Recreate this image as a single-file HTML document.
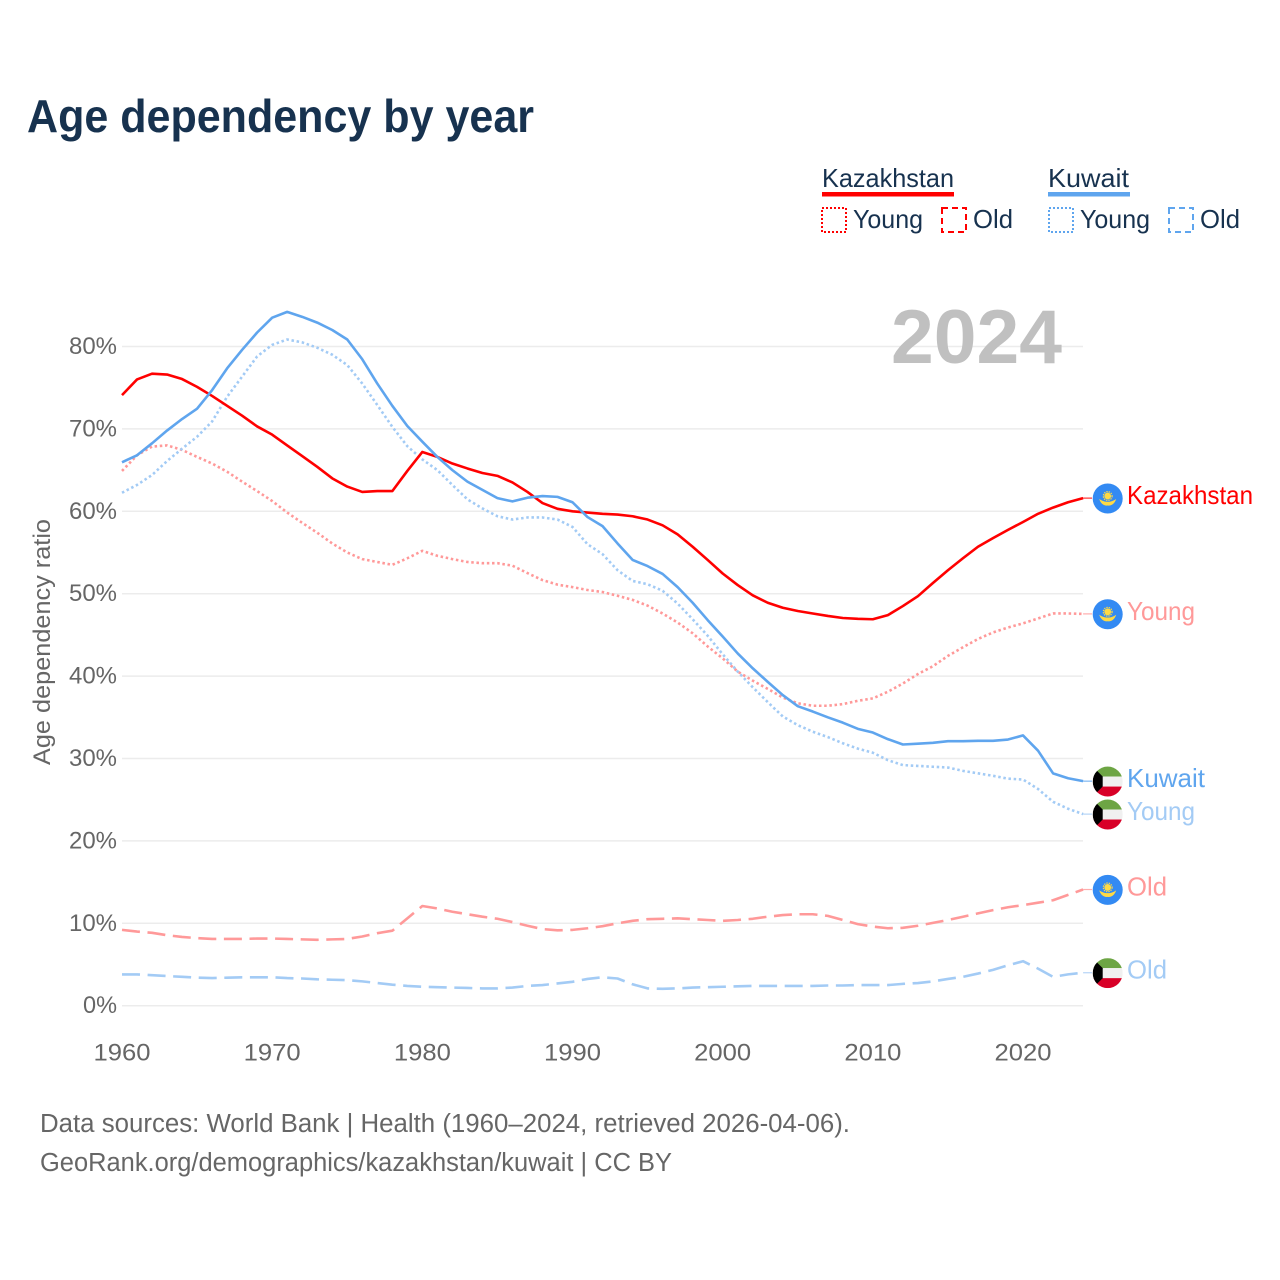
<!DOCTYPE html>
<html lang="en">
<head>
<meta charset="utf-8">
<title>Age dependency by year</title>
<style>
html,body{margin:0;padding:0;background:#fff;}
svg{display:block;}
text{font-family:"Liberation Sans",sans-serif;}
</style>
</head>
<body>
<svg id="chart" xmlns="http://www.w3.org/2000/svg" width="1280" height="1280" viewBox="0 0 1280 1280">
  <defs><clipPath id="flag-clip"><circle cx="0" cy="0" r="15"></circle></clipPath></defs>
  <rect x="0" y="0" width="1280" height="1280" fill="#ffffff"></rect>
  <text x="27" y="132" font-size="46" font-weight="700" fill="#17324f" textLength="507" lengthAdjust="spacingAndGlyphs">Age dependency by year</text>

  <g fill="#17324f" font-size="26">
    <text x="822" y="187" textLength="132" lengthAdjust="spacingAndGlyphs">Kazakhstan</text>
    <rect x="822" y="192" width="132" height="4.5" fill="#ff0000"></rect>
    <rect x="822" y="208" width="24" height="24" fill="none" stroke="#ff0000" stroke-width="2" stroke-dasharray="2 2"></rect>
    <text x="853" y="228" textLength="70" lengthAdjust="spacingAndGlyphs">Young</text>
    <rect x="942" y="208" width="24" height="24" fill="none" stroke="#ff0000" stroke-width="2" stroke-dasharray="6 4"></rect>
    <text x="973" y="228" textLength="40" lengthAdjust="spacingAndGlyphs">Old</text>
    <text x="1048" y="187" textLength="81" lengthAdjust="spacingAndGlyphs">Kuwait</text>
    <rect x="1048" y="192" width="82" height="4.5" fill="#5fa5ee"></rect>
    <rect x="1049" y="208" width="24" height="24" fill="none" stroke="#5fa5ee" stroke-width="2" stroke-dasharray="2 2"></rect>
    <text x="1080" y="228" textLength="70" lengthAdjust="spacingAndGlyphs">Young</text>
    <rect x="1169" y="208" width="24" height="24" fill="none" stroke="#5fa5ee" stroke-width="2" stroke-dasharray="6 4"></rect>
    <text x="1200" y="228" textLength="40" lengthAdjust="spacingAndGlyphs">Old</text>
  </g>

  <g id="grid"></g>
  <text x="891" y="363" font-size="76" font-weight="700" fill="#c0c0c0" textLength="171" lengthAdjust="spacingAndGlyphs">2024</text>
  <g id="series"></g>
  <g id="yticks" font-size="24" fill="#666666"></g>
  <g id="xticks" font-size="24" fill="#666666"></g>
  <text transform="translate(50,642) rotate(-90)" text-anchor="middle" font-size="24" fill="#666666" textLength="246" lengthAdjust="spacingAndGlyphs">Age dependency ratio</text>
  <g id="ends"></g>

  <text x="40" y="1132" font-size="25.5" fill="#666666" textLength="810" lengthAdjust="spacingAndGlyphs">Data sources: World Bank | Health (1960–2024, retrieved 2026-04-06).</text>
  <text x="40" y="1171" font-size="25.5" fill="#666666" textLength="632" lengthAdjust="spacingAndGlyphs">GeoRank.org/demographics/kazakhstan/kuwait | CC BY</text>
</svg>
<script>
var startYear = 1960;
var xTickYears = [1960, 1970, 1980, 1990, 2000, 2010, 2020];
var yTickValues = [0, 10, 20, 30, 40, 50, 60, 70, 80];
var kazakhstanTotal = [74.1,76.0,76.7,76.6,76.05,75.1,74.0,72.8,71.6,70.3,69.3,68.0,66.7,65.4,64.0,63.0,62.35,62.45,62.45,64.9,67.2,66.6,65.8,65.2,64.65,64.3,63.5,62.35,61.0,60.3,60.0,59.85,59.7,59.6,59.4,59.0,58.3,57.2,55.7,54.1,52.45,51.05,49.8,48.9,48.3,47.9,47.6,47.3,47.05,46.95,46.9,47.4,48.5,49.7,51.3,52.85,54.3,55.7,56.75,57.75,58.7,59.7,60.45,61.1,61.6];
var kazakhstanYoung = [64.9,66.8,67.85,68.0,67.45,66.6,65.8,64.8,63.6,62.45,61.25,59.85,58.6,57.4,56.1,55.0,54.2,53.85,53.5,54.3,55.2,54.6,54.2,53.85,53.7,53.7,53.4,52.5,51.65,51.1,50.8,50.45,50.2,49.75,49.25,48.55,47.6,46.5,45.2,43.6,42.15,40.55,39.45,38.45,37.4,36.7,36.4,36.4,36.6,37.0,37.3,38.1,39.1,40.25,41.2,42.45,43.5,44.5,45.3,45.9,46.4,47.0,47.6,47.6,47.55];
var kazakhstanOld = [9.2,9.0,8.85,8.55,8.35,8.2,8.1,8.1,8.1,8.15,8.15,8.1,8.05,8.0,8.05,8.1,8.4,8.8,9.1,10.6,12.1,11.8,11.4,11.1,10.8,10.55,10.15,9.7,9.3,9.15,9.2,9.4,9.65,10.0,10.3,10.5,10.55,10.6,10.5,10.4,10.3,10.4,10.55,10.8,11.0,11.1,11.1,10.9,10.4,9.9,9.6,9.4,9.45,9.7,10.05,10.4,10.8,11.2,11.6,11.95,12.2,12.5,12.8,13.45,14.1];
var kuwaitTotal = [65.95,66.8,68.25,69.8,71.2,72.45,74.7,77.35,79.6,81.7,83.5,84.2,83.6,82.9,82.0,80.85,78.45,75.5,72.8,70.35,68.45,66.6,65.0,63.6,62.6,61.6,61.2,61.65,61.85,61.75,61.1,59.3,58.2,56.1,54.1,53.35,52.4,50.8,48.9,46.8,44.8,42.75,40.95,39.3,37.7,36.35,35.7,35.0,34.35,33.6,33.15,32.35,31.7,31.8,31.9,32.1,32.1,32.15,32.15,32.3,32.8,30.95,28.2,27.6,27.25];
var kuwaitYoung = [62.25,63.2,64.4,66.1,67.6,69.05,70.9,73.9,76.35,78.8,80.2,80.85,80.5,79.85,79.0,77.75,75.5,72.9,70.25,67.9,66.3,65.0,63.2,61.45,60.35,59.4,59.0,59.25,59.25,59.0,58.1,56.0,54.8,52.85,51.55,51.15,50.35,48.8,46.9,44.9,42.65,40.55,38.65,36.85,35.1,34.05,33.25,32.6,31.85,31.2,30.7,29.8,29.2,29.1,29.0,28.9,28.5,28.2,27.9,27.55,27.45,26.3,24.75,23.9,23.25];
var kuwaitOld = [3.8,3.8,3.7,3.6,3.5,3.4,3.35,3.4,3.45,3.45,3.45,3.35,3.3,3.2,3.15,3.1,2.95,2.75,2.55,2.4,2.3,2.25,2.2,2.15,2.1,2.1,2.2,2.4,2.5,2.7,2.9,3.25,3.45,3.3,2.6,2.1,2.05,2.1,2.2,2.25,2.3,2.35,2.4,2.4,2.4,2.4,2.4,2.45,2.45,2.5,2.5,2.5,2.65,2.75,2.95,3.25,3.5,3.9,4.35,4.9,5.4,4.5,3.5,3.8,4.0];

var NS = 'http://www.w3.org/2000/svg';
var RED = '#ff0000', RED_LIGHT = '#ff9999', BLUE = '#5fa5ee', BLUE_LIGHT = '#a3cbf5';
function xScale(year){ return 122 + (year - 1960) * 15.017; }
function yScale(v){ return 1005.7 - v * 8.24; }
function make(tag, attrs, parent){
  var el = document.createElementNS(NS, tag);
  for (var k in attrs) el.setAttribute(k, attrs[k]);
  parent.appendChild(el);
  return el;
}
var gridG = document.getElementById('grid');
var yG = document.getElementById('yticks');
var xG = document.getElementById('xticks');
var seriesG = document.getElementById('series');
var endsG = document.getElementById('ends');

yTickValues.forEach(function(v){
  var line = make('line', {x1:122, x2:1083, y1:yScale(v), y2:yScale(v), stroke:'#ececec', 'stroke-width':1.5}, gridG);
  
  
  var t = make('text', {x:117, y:yScale(v)+7.5, 'text-anchor':'end', textLength: v === 0 ? 34 : 48, lengthAdjust:'spacingAndGlyphs'}, yG);
  
  
  t.textContent = v + '%';
});
xTickYears.forEach(function(y){
  var t = make('text', {x:xScale(y), y:1060.5, 'text-anchor':'middle', textLength:57, lengthAdjust:'spacingAndGlyphs'}, xG);
  
  
  t.textContent = y;
});

function drawLine(values, color, dash, name){
  var d = values.map(function(v, i){
    return (i ? 'L' : 'M') + xScale(startYear + i).toFixed(2) + ' ' + yScale(v).toFixed(2);
  }).join(' ');
  var attrs = {d:d, fill:'none', stroke:color, 'stroke-width':2.6, 'stroke-linejoin':'round'};
  if (dash) attrs['stroke-dasharray'] = dash;
  var p = make('path', attrs, seriesG);
  
  
}
drawLine(kuwaitOld, BLUE_LIGHT, '18 7.6', 'line-kuwait-old');
drawLine(kazakhstanOld, RED_LIGHT, '18 7.6', 'line-kazakhstan-old');
drawLine(kazakhstanYoung, RED_LIGHT, '2.5 2.7', 'line-kazakhstan-young');
drawLine(kuwaitYoung, BLUE_LIGHT, '2.5 2.7', 'line-kuwait-young');
drawLine(kazakhstanTotal, RED, '', 'line-kazakhstan-total');
drawLine(kuwaitTotal, BLUE, '', 'line-kuwait-total');

function kazakhFlag(g){
  make('circle', {r:15, fill:'#338af3'}, g);
  make('circle', {cx:0, cy:-2.5, r:3.4, fill:'#ffda44'}, g);
  make('circle', {cx:0, cy:-2.5, r:4.4, fill:'none', stroke:'#ffda44', 'stroke-width':1.2, 'stroke-dasharray':'1.4 1'}, g);
  make('path', {d:'M-8.5 0.5 Q-4 3.6 0 3.2 Q4 3.6 8.5 0.5 Q6 7.6 0 7 Q-6 7.6 -8.5 0.5 Z', fill:'#ffda44'}, g);
}
function kuwaitFlag(g){
  var c = make('g', {'clip-path':'url(#flag-clip)'}, g);
  make('rect', {x:-15, y:-15, width:30, height:10, fill:'#6da544'}, c);
  make('rect', {x:-15, y:-5, width:30, height:10, fill:'#f0f0f0'}, c);
  make('rect', {x:-15, y:5, width:30, height:10, fill:'#d80027'}, c);
  make('path', {d:'M-15 -15 L-5 -5 L-5 5 L-15 15 Z', fill:'#000000'}, c);
}
function drawEnd(values, color, light, text, width, flag, name){
  var last = values[values.length - 1];
  var y = yScale(last);
  var conn = make('line', {x1:xScale(2024), x2:1092, y1:y, y2:y, stroke:color, 'stroke-width':1.2, opacity:0.8}, endsG);
  
  
  var g = make('g', {transform:'translate(1107.7,' + (y + 0.4).toFixed(2) + ')'}, endsG);
  
  
  flag(g);
  var t = make('text', {x:1127, y:(y + 6).toFixed(2), 'font-size':26, fill:color, textLength:width, lengthAdjust:'spacingAndGlyphs'}, endsG);
  
  
  t.textContent = text;
}
drawEnd(kazakhstanTotal, RED, RED, 'Kazakhstan', 126, kazakhFlag, 'end-kazakhstan-total');
drawEnd(kazakhstanYoung, RED_LIGHT, RED_LIGHT, 'Young', 68, kazakhFlag, 'end-kazakhstan-young');
drawEnd(kuwaitTotal, BLUE, BLUE, 'Kuwait', 78, kuwaitFlag, 'end-kuwait-total');
drawEnd(kuwaitYoung, BLUE_LIGHT, BLUE_LIGHT, 'Young', 68, kuwaitFlag, 'end-kuwait-young');
drawEnd(kazakhstanOld, RED_LIGHT, RED_LIGHT, 'Old', 40, kazakhFlag, 'end-kazakhstan-old');
drawEnd(kuwaitOld, BLUE_LIGHT, BLUE_LIGHT, 'Old', 40, kuwaitFlag, 'end-kuwait-old');
</script>
</body>
</html>
